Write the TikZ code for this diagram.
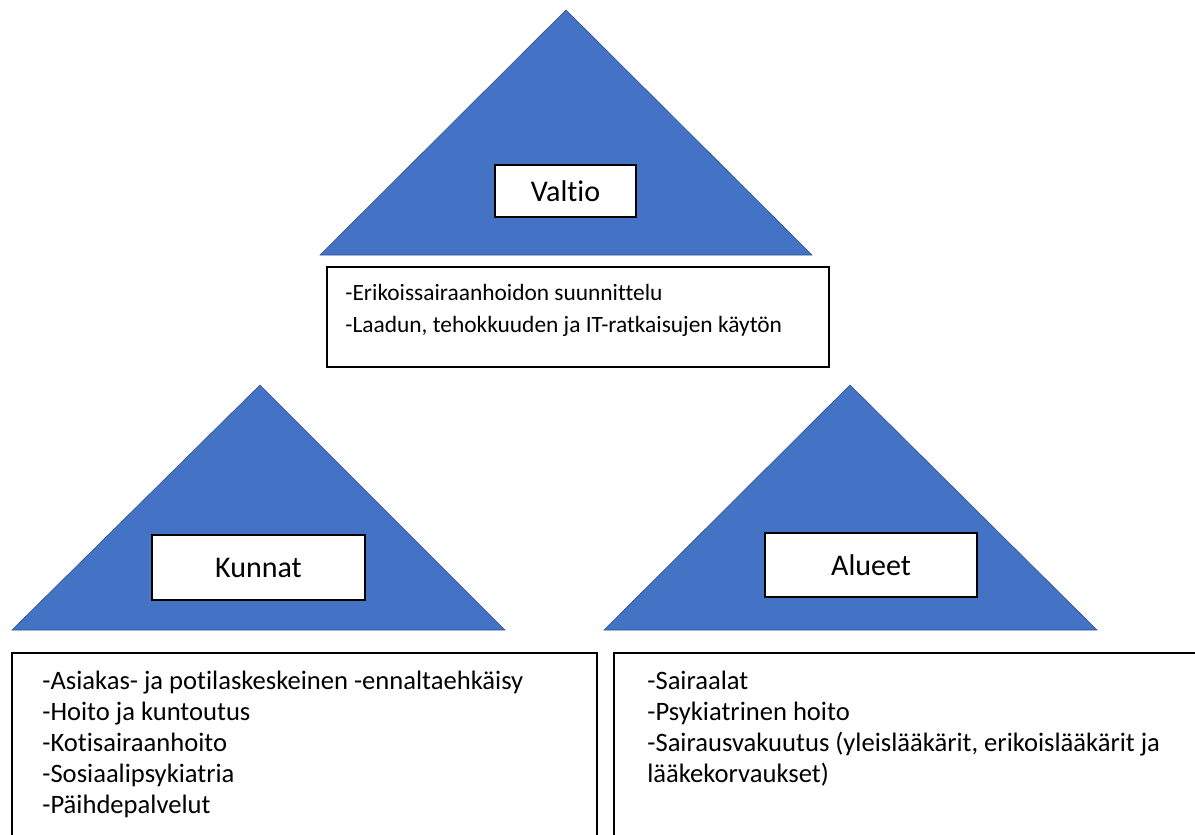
\documentclass[tikz,border=0pt]{standalone}
\usepackage{fontspec}
\setmainfont{Carlito}[Ligatures=NoCommon]
\usetikzlibrary{positioning}

\definecolor{officeblue}{HTML}{4472C4}
\definecolor{officeline}{HTML}{2F528F}

\tikzset{
  tri/.style={fill=officeblue, draw=officeline, line width=0.3pt},
  level/.style={draw, fill=white, line width=0.6pt, font=\fontsize{15}{17}\selectfont, inner sep=0pt},
  tasks/.style={anchor=north west, align=left, inner sep=0pt},
}

\begin{document}
\begin{tikzpicture}[x=0.5pt, y=-0.5pt]
  \useasboundingbox (0,0) rectangle (1195,835);
  \clip (0,0) rectangle (1195,835);

  % kolmiot
  \path[tri] (566,10) -- (812,255) -- (320,255) -- cycle;
  \path[tri] (260,385) -- (505,630) -- (12,630) -- cycle;
  \path[tri] (850,385) -- (1097,630) -- (604,630) -- cycle;

  % tasot
  \node[level, minimum width=70.5pt, minimum height=26pt] (valtio) at (565.5,191) {Valtio};
  \node[level, minimum width=106.5pt, minimum height=32.5pt] (kunnat) at (258.5,567.5) {Kunnat};
  \node[level, minimum width=106pt, minimum height=32pt] (alueet) at (871,565) {Alueet};

  % tehtavat
  \draw[line width=0.6pt, fill=white] (327,267) rectangle (829,367);
  \node[tasks, font=\fontsize{11.7}{16}\selectfont] (valtioteht) at (345,284)
    {-Erikoissairaanhoidon suunnittelu\\-Laadun, tehokkuuden ja IT-ratkaisujen käytön};

  \draw[line width=0.6pt, fill=white] (12,653) rectangle (597,850);
  \node[tasks, font=\fontsize{13.3}{15.5}\selectfont] (kunnatteht) at (42,671)
    {-Asiakas- ja potilaskeskeinen -ennaltaehkäisy\\-Hoito ja kuntoutus\\-Kotisairaanhoito\\-Sosiaalipsykiatria\\-Päihdepalvelut};

  \draw[line width=0.6pt, fill=white] (614,653) rectangle (1210,850);
  \node[tasks, font=\fontsize{13.3}{15.5}\selectfont] (alueetteht) at (647,671)
    {-Sairaalat\\-Psykiatrinen hoito\\-Sairausvakuutus (yleislääkärit, erikoislääkärit ja\\lääkekorvaukset)};
\end{tikzpicture}
\end{document}
